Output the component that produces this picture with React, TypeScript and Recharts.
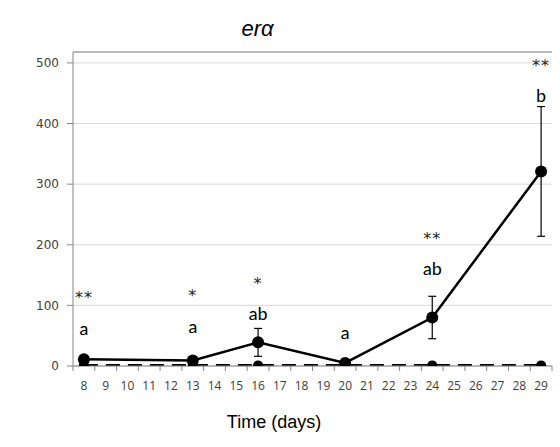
import { LineChart, Line, XAxis, YAxis, CartesianGrid, ErrorBar, ReferenceLine, LabelList } from 'recharts'

// sampling days on the x axis
const days = [8, 9, 10, 11, 12, 13, 14, 15, 16, 17, 18, 19, 20, 21, 22, 23, 24, 25, 26, 27, 28, 29]

// measured days and their values
const measuredDays = [8, 13, 16, 20, 24, 29]
const treated = [11, 9, 39, 5, 80, 321]
const treatedErr = [0, 0, 23, 0, 35, 107]
const control = [1, 1, 1, 1, 1, 1]

// annotations: letters (groups) and stars (significance), with the height they sit at
const letters = ['a', 'a', 'ab', 'a', 'ab', 'b']
const letterY = [63, 66, 87, 56, 162, 447]
const stars = ['**', '*', '*', '', '**', '**']
const starY = [114, 116, 137, null, 210, 496]

const yTicks = [0, 100, 200, 300, 400, 500]

const data = days.map((d) => {
  const i = measuredDays.indexOf(d)
  if (i < 0) return { day: d }
  return {
    day: d,
    treated: treated[i],
    err: treatedErr[i],
    control: control[i],
    letterY: letterY[i],
    letter: letters[i],
    starY: starY[i],
    star: stars[i],
  }
})

const plotLeft = 73
const plotRight = 552
const bandW = (plotRight - plotLeft) / days.length

function DayTick(props: any) {
  const { x, y, payload, index } = props
  const left = x - bandW / 2
  return (
    <g>
      <line x1={left} y1={y} x2={left} y2={y + 5} stroke="#868686" strokeWidth={1} />
      {index === days.length - 1 && (
        <line x1={x + bandW / 2} y1={y} x2={x + bandW / 2} y2={y + 5} stroke="#868686" strokeWidth={1} />
      )}
      <text x={x} y={y + 19} textAnchor="middle" dominantBaseline="central" fontSize={12} fill="#404040" fontFamily="'Open Sans', sans-serif">
        {payload.value}
      </text>
    </g>
  )
}

export default function App() {
  return (
    <div style={{ position: 'absolute', left: 0, top: 0, width: 560, height: 447, background: 'white', fontFamily: 'Liberation Sans, Arial, sans-serif' }}>
      <div style={{ position: 'absolute', left: 0, width: 515, top: 16, textAlign: 'center', fontSize: 22, fontStyle: 'italic', color: '#000' }}>
        erα
      </div>
      <LineChart width={560} height={447} data={data} margin={{ top: 52, right: 8, bottom: 51, left: 0 }}>
        <CartesianGrid vertical={false} stroke="#d9d9d9" />
        <XAxis
          dataKey="day"
          scale="band"
          height={30}
          tickSize={0}
          tickMargin={0}
          tick={<DayTick />}
          axisLine={{ stroke: '#868686' }}
          tickLine={false}
          interval={0}
        />
        <YAxis
          width={73}
          domain={[0, 518]}
          ticks={yTicks}
          allowDataOverflow
          axisLine={{ stroke: '#868686' }}
          tickLine={{ stroke: '#868686' }}
          tickSize={6}
          tickMargin={8}
          tick={{ fontSize: 12, fill: '#404040', fontFamily: 'DejaVu Sans' }}
        />
        <YAxis yAxisId="right" orientation="right" width={0} tick={false} tickLine={false} axisLine={{ stroke: '#868686' }} />
        <ReferenceLine y={518} stroke="#868686" />
        <Line
          dataKey="control"
          stroke="#000"
          strokeWidth={3}
          strokeDasharray="14 8"
          connectNulls
          dot={{ r: 5, fill: '#000', stroke: '#000', strokeWidth: 0 }}
          isAnimationActive={false}
        />
        <Line
          dataKey="treated"
          stroke="#000"
          strokeWidth={2.5}
          connectNulls
          dot={{ r: 6, fill: '#000', stroke: '#000', strokeWidth: 0 }}
          isAnimationActive={false}
        >
          <ErrorBar dataKey="err" width={4} stroke="#000" strokeWidth={1.2} />
        </Line>
        <Line dataKey="letterY" stroke="none" dot={false} activeDot={false} isAnimationActive={false}>
          <LabelList dataKey="letter" position="center" fontSize={19} fill="#000" fontFamily="Carlito, 'Open Sans', sans-serif" />
        </Line>
        <Line dataKey="starY" stroke="none" dot={false} activeDot={false} isAnimationActive={false}>
          <LabelList dataKey="star" position="center" fontSize={16} letterSpacing={1} fill="#222" fontFamily="'DejaVu Sans', sans-serif" />
        </Line>
      </LineChart>
      <div style={{ position: 'absolute', left: 0, width: 548, top: 412, textAlign: 'center', fontSize: 18, color: '#000' }}>
        Time (days)
      </div>
    </div>
  )
}
